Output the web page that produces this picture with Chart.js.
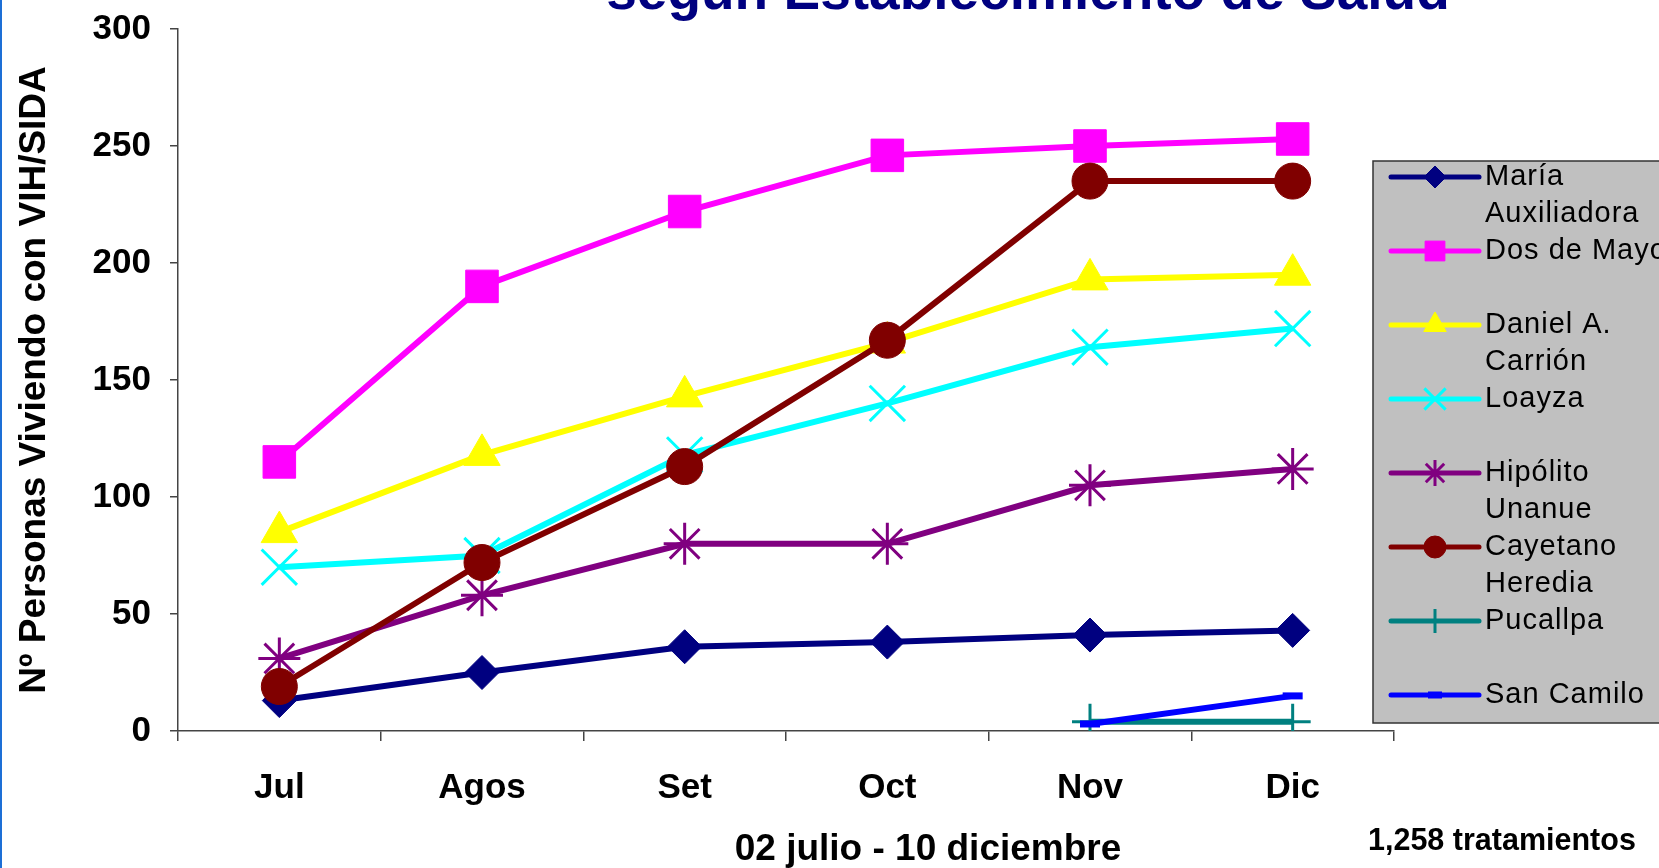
<!DOCTYPE html>
<html>
<head>
<meta charset="utf-8">
<title>PVVS por establecimiento</title>
<script src="https://cdn.jsdelivr.net/npm/chart.js@4.4.0/dist/chart.umd.min.js"></script>
<style>
  html, body { margin: 0; padding: 0; background: #ffffff; overflow: hidden; }
  #wrap { width: 1659px; height: 868px; }
</style>
</head>
<body>
<div id="wrap"><canvas id="chartPvvs" width="1659" height="868"></canvas></div>
<script>
// datos
var meses = ['Jul', 'Agos', 'Set', 'Oct', 'Nov', 'Dic'];
var mariaAuxiliadora = [13, 25, 36, 38, 41, 43];
var dosDeMayo = [115, 190, 222, 246, 250, 253];
var danielCarrion = [85, 118, 143, 166, 193, 195];
var loayza = [70, 75, 118, 140, 164, 172];
var hipolitoUnanue = [31, 58, 80, 80, 105, 112];
var cayetanoHeredia = [19, 72, 113, 167, 235, 235];
var pucallpa = [null, null, null, null, 4, 4];
var sanCamilo = [null, null, null, null, 3, 15];
var yTicks = [0, 50, 100, 150, 200, 250, 300];

var nombres = ['María Auxiliadora', 'Dos de Mayo', 'Daniel A. Carrión', 'Loayza',
               'Hipólito Unanue', 'Cayetano Heredia', 'Pucallpa', 'San Camilo'];
var lineasLeyenda = [['María', 'Auxiliadora'], ['Dos de Mayo'], ['Daniel A.', 'Carrión'], ['Loayza'],
                     ['Hipólito', 'Unanue'], ['Cayetano', 'Heredia'], ['Pucallpa'], ['San Camilo']];

var FONT = '"Liberation Sans", Arial, sans-serif';

function serie(i, data, color, estilo, radio, borde, radioLeyenda) {
    return {
        label: nombres[i],
        data: data,
        borderColor: color,
        backgroundColor: color,
        borderWidth: 6,
        pointStyle: estilo,
        pointRadius: radio,
        pointHoverRadius: radio,
        pointBackgroundColor: color,
        pointBorderColor: color,
        pointBorderWidth: borde,
        legendRadius: radioLeyenda,
        tension: 0,
        spanGaps: false,
        order: 8 - i
    };
}

var extras = {
    id: 'extras',
    afterDraw: function(chart) {
        var ctx = chart.ctx;
        ctx.save();

        // borde azul de la diapositiva
        ctx.fillStyle = '#1d6fd6';
        ctx.fillRect(0, 0, 2, 868);

        // titulo (cortado arriba)
        ctx.fillStyle = '#000080';
        ctx.font = 'bold 55px ' + FONT;
        ctx.textAlign = 'center';
        ctx.textBaseline = 'alphabetic';
        ctx.fillText('según Establecimiento de Salud', 1028, 9);

        // rotulo eje x y total
        ctx.fillStyle = '#000000';
        ctx.textBaseline = 'middle';
        ctx.font = 'bold 37px ' + FONT;
        ctx.fillText('02 julio - 10 diciembre', 928, 850);
        ctx.textAlign = 'left';
        ctx.font = 'bold 30.5px ' + FONT;
        ctx.fillText('1,258 tratamientos', 1368, 842);

        // leyenda
        ctx.fillStyle = '#C0C0C0';
        ctx.fillRect(1373, 161, 320, 562);
        ctx.strokeStyle = '#333333';
        ctx.lineWidth = 1.5;
        ctx.strokeRect(1373, 161, 320, 562);

        chart.data.datasets.forEach(function(ds, i) {
            var y = 177 + i * 74;
            ctx.strokeStyle = ds.borderColor;
            ctx.lineWidth = 5;
            ctx.lineCap = 'round';
            ctx.beginPath();
            ctx.moveTo(1391, y);
            ctx.lineTo(1479, y);
            ctx.stroke();

            ctx.fillStyle = ds.borderColor;
            ctx.strokeStyle = ds.borderColor;
            ctx.lineWidth = ds.pointBorderWidth;
            ctx.lineCap = 'butt';
            Chart.helpers.drawPoint(ctx, {
                pointStyle: ds.pointStyle,
                radius: ds.legendRadius,
                borderWidth: ds.pointBorderWidth,
                rotation: 0
            }, 1435, y);

            ctx.fillStyle = '#000000';
            ctx.font = '29px ' + FONT;
            ctx.letterSpacing = '1px';
            ctx.textAlign = 'left';
            ctx.textBaseline = 'middle';
            lineasLeyenda[i].forEach(function(txt, k) {
                ctx.fillText(txt, 1485, y + k * 37);
            });
            ctx.letterSpacing = '0px';
        });

        ctx.restore();
    }
};

var ctx = document.getElementById('chartPvvs');
var chartPvvs = new Chart(ctx, {
    type: 'line',
    data: {
        labels: meses,
        datasets: [
            serie(0, mariaAuxiliadora, '#000080', 'rectRot', 17, 1, 11),
            serie(1, dosDeMayo, '#FF00FF', 'rect', 23, 1, 14),
            serie(2, danielCarrion, '#FFFF00', 'triangle', 21, 1, 13),
            serie(3, loayza, '#00FFFF', 'crossRot', 25, 3, 15),
            serie(4, hipolitoUnanue, '#800080', 'star', 21, 3, 13),
            serie(5, cayetanoHeredia, '#800000', 'circle', 18, 1, 11),
            serie(6, pucallpa, '#008080', 'cross', 18, 3, 12),
            serie(7, sanCamilo, '#0000FF', 'line', 10, 7, 7)
        ]
    },
    options: {
        responsive: false,
        devicePixelRatio: 1,
        animation: false,
        layout: { padding: { top: 29, right: 265, bottom: 0, left: 0 } },
        plugins: {
            legend: { display: false },
            tooltip: { enabled: false },
            title: { display: false }
        },
        scales: {
            x: {
                offset: true,
                grid: { offset: true, drawOnChartArea: false, tickLength: 10, color: '#444444', lineWidth: 1.5 },
                border: { color: '#444444', width: 1.5 },
                ticks: { color: '#000000', padding: 26, font: { family: FONT, size: 35, weight: 'bold' } },
                afterFit: function(scale) { scale.height = 137; }
            },
            y: {
                min: yTicks[0],
                max: yTicks[yTicks.length - 1],
                afterBuildTicks: function(scale) {
                    scale.ticks = yTicks.map(function(v) { return { value: v }; });
                },
                grid: { drawOnChartArea: false, tickLength: 8, color: '#444444', lineWidth: 1.5 },
                border: { color: '#444444', width: 1.5 },
                ticks: { color: '#000000', padding: 19, font: { family: FONT, size: 35, weight: 'bold' } },
                title: {
                    display: true,
                    text: 'Nº Personas Viviendo con VIH/SIDA',
                    color: '#000000',
                    padding: { top: 13, bottom: 0 },
                    font: { family: FONT, size: 37, weight: 'bold' }
                },
                afterFit: function(scale) {
                    scale.width = 178;
                    scale.paddingTop = 0;
                    scale.paddingBottom = 0;
                }
            }
        }
    },
    plugins: [extras]
});
</script>
</body>
</html>
